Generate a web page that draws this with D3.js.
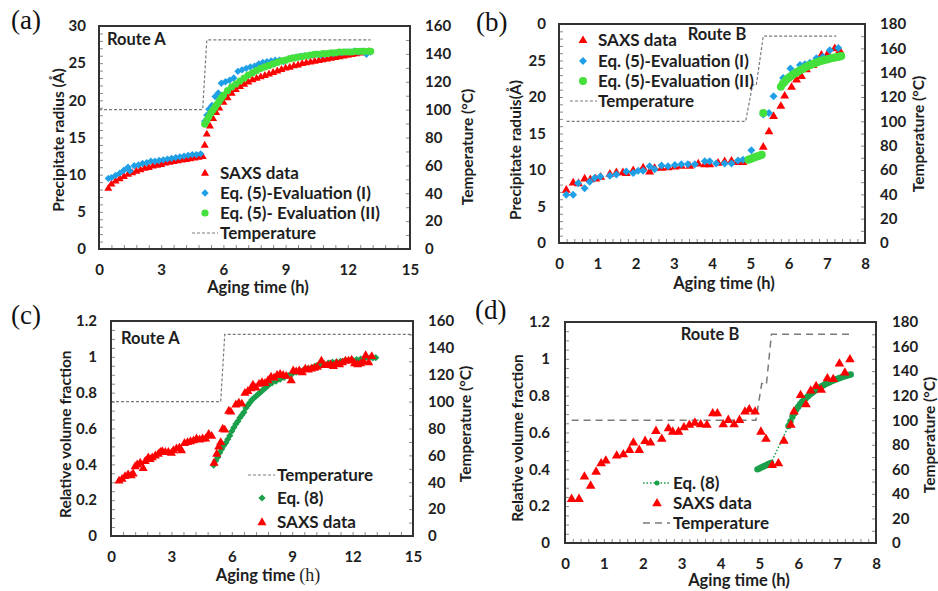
<!DOCTYPE html>
<html><head><meta charset="utf-8">
<script src="https://cdn.jsdelivr.net/npm/d3@7"></script>
<style>body{margin:0;background:#fff}</style>
</head><body>
<svg id="c" width="938" height="591" xmlns="http://www.w3.org/2000/svg"></svg>
<script>
// ---------- DATA ----------
// Panel (a) Route A radius
const aTemp = [[0,100],[5.0,100],[5.2,150],[13.1,150]];
const aSaxs = [[0.45,8.2],[0.6,8.8],[0.8,9.2],[1.0,9.5],[1.2,9.8],[1.4,10.1],[1.6,10.3],[1.8,10.5],[2.0,10.7],[2.2,10.9],[2.4,11.0],[2.6,11.2],[2.8,11.3],[3.0,11.4],[3.2,11.6],[3.4,11.7],[3.6,11.8],[3.8,11.9],[4.0,12.0],[4.2,12.1],[4.4,12.2],[4.6,12.3],[4.8,12.4],[5.0,12.5],
 [5.1,14.0],[5.2,15.5],[5.35,16.6],[5.5,17.6],[5.65,18.4],[5.8,19.0],[6.0,19.8],[6.2,20.4],[6.4,21.0],[6.6,21.5],[6.8,21.9],[7.0,22.2],[7.2,22.5],[7.4,22.8],[7.6,23.0],[7.8,23.2],[8.0,23.4],[8.2,23.6],[8.4,23.8],[8.6,24.0],[8.8,24.2],[9.0,24.4],[9.2,24.5],[9.4,24.7],[9.6,24.8],[9.8,25.0],[10.0,25.1],[10.2,25.2],[10.4,25.3],[10.6,25.4],[10.8,25.5],[11.0,25.6],[11.2,25.7],[11.4,25.8],[11.6,25.9],[11.8,26.0],[12.0,26.1],[12.2,26.2],[12.4,26.3],[12.6,26.4],[12.8,26.5],[13.0,26.6]];
const aEvalI = [[0.45,9.5],[0.6,9.6],[0.8,9.9],[1.0,10.2],[1.2,10.6],[1.4,11.0],[1.5,10.5],[1.7,11.2],[1.9,11.3],[2.1,11.5],[2.3,11.6],[2.5,11.8],[2.7,11.8],[2.9,11.9],[3.1,12.0],[3.3,12.1],[3.5,12.2],[3.7,12.3],[3.9,12.4],[4.1,12.5],[4.3,12.6],[4.5,12.7],[4.7,12.7],[4.9,12.8],
 [5.1,17.2],[5.2,18.0],[5.3,18.8],[5.45,19.3],[5.6,20.5],[5.75,21.0],[5.9,22.3],[6.1,22.5],[6.3,22.7],[6.5,23.0],[6.7,23.9],[6.9,24.1],[7.1,24.3],[7.3,24.5],[7.5,24.6],[7.7,24.9],[7.9,25.1],[8.1,25.2],[8.3,25.3],[8.5,25.4],[8.7,25.4],[8.9,25.2],[9.1,25.5],[9.3,25.7],[9.5,25.8],[9.7,25.9],[9.9,26.0],[10.1,26.0],[10.3,26.1],[10.5,26.2],[10.7,26.1],[10.9,26.2],[11.1,26.3],[11.3,26.3],[11.5,26.4],[11.7,26.4],[11.9,26.5],[12.1,26.5],[12.3,26.6],[12.5,26.5],[12.7,26.6],[12.9,26.2],[13.1,26.5]];
const aEvalII = [[5.1,16.8],[5.2,17.3],[5.3,17.8],[5.4,18.3],[5.5,18.7],[5.6,19.1],[5.7,19.5],[5.8,19.9],[5.9,20.3],[6.0,20.7],[6.2,21.3],[6.4,21.8],[6.6,22.2],[6.8,22.6],[7.0,23.0],[7.2,23.4],[7.4,23.7],[7.6,24.0],[7.8,24.3],[8.0,24.5],[8.2,24.7],[8.4,24.9],[8.6,25.1],[8.8,25.3],[9.0,25.4],[9.2,25.6],[9.4,25.7],[9.6,25.8],[9.8,25.9],[10.0,26.0],[10.2,26.1],[10.4,26.2],[10.6,26.2],[10.8,26.3],[11.0,26.3],[11.2,26.4],[11.4,26.4],[11.6,26.5],[11.8,26.5],[12.0,26.5],[12.2,26.5],[12.4,26.6],[12.6,26.6],[12.8,26.6],[13.0,26.6],[13.1,26.6]];

// Panel (b) Route B radius
const bTemp = [[0.2,100],[4.88,100],[5.06,130],[5.16,130],[5.34,170],[7.25,170]];
const bSaxs = [[0.19,7.3],[0.37,8.3],[0.51,8.2],[0.67,8.85],[0.82,8.75],[0.96,8.85],[1.09,9.1],[1.33,9.5],[1.5,9.7],[1.67,9.7],[1.76,9.6],[1.94,10.0],[2.2,10.35],[2.37,9.8],[2.5,10.3],[2.68,10.3],[2.85,10.4],[3.03,10.5],[3.2,10.6],[3.42,10.6],[3.64,10.9],[3.81,10.8],[3.94,10.8],[4.16,11.0],[4.33,11.2],[4.51,11.3],[4.68,11.1],[4.81,11.1],
 [5.34,13.2],[5.49,15.3],[5.61,17.4],[5.8,18.8],[5.9,20.2],[6.08,21.4],[6.21,22.4],[6.34,22.9],[6.47,23.8],[6.64,24.4],[6.86,25.8],[7.03,26.0],[7.21,26.7],[7.34,26.4]];
const bEvalI = [[0.19,6.6],[0.37,6.6],[0.5,8.2],[0.67,7.5],[0.8,8.4],[0.93,8.9],[1.08,9.1],[1.33,9.2],[1.5,9.4],[1.76,9.8],[1.94,9.6],[2.07,9.9],[2.2,9.9],[2.37,10.5],[2.5,10.1],[2.68,10.6],[2.85,10.5],[3.03,10.7],[3.2,10.8],[3.37,10.8],[3.55,10.8],[3.81,11.2],[3.94,11.2],[4.11,10.9],[4.33,10.9],[4.51,10.9],[4.68,11.3],[4.81,11.4],
 [5.03,12.7],[5.34,17.6],[5.49,17.8],[5.61,20.1],[5.86,22.6],[6.05,23.9],[6.3,24.4],[6.43,24.5],[6.56,24.7],[6.73,25.3],[6.9,25.5],[7.08,26.4],[7.3,26.7]];
const bEvalII = [[4.95,11.4],[5.0,11.5],[5.05,11.6],[5.1,11.7],[5.15,11.8],[5.2,11.9],[5.25,12.0],[5.3,12.1],[5.34,17.8],
 [5.8,21.4],[5.85,21.8],[5.9,22.1],[5.95,22.4],[6.0,22.6],[6.05,22.8],[6.1,23.0],[6.15,23.2],[6.2,23.35],[6.25,23.5],[6.3,23.65],[6.35,23.8],[6.4,23.95],[6.45,24.1],[6.5,24.2],[6.55,24.35],[6.6,24.45],[6.65,24.55],[6.7,24.65],[6.75,24.75],[6.8,24.85],[6.85,24.95],[6.9,25.0],[6.95,25.1],[7.0,25.15],[7.05,25.2],[7.1,25.3],[7.15,25.35],[7.2,25.4],[7.25,25.45],[7.3,25.5],[7.35,25.55],[7.38,25.6]];

// Panel (c) Route A volume fraction
const cTemp = [[0,100],[5.45,100],[5.65,150],[15,150]];
const cSaxs = [[0.4,0.31],[0.55,0.32],[0.7,0.335],[0.85,0.345],[1.0,0.34],[1.1,0.35],[1.2,0.39],[1.3,0.40],[1.45,0.41],[1.6,0.38],[1.7,0.42],[1.85,0.44],[1.95,0.43],[2.05,0.44],[2.2,0.45],[2.35,0.46],[2.45,0.47],[2.55,0.475],[2.7,0.47],[2.85,0.47],[3.0,0.465],[3.1,0.48],[3.25,0.49],[3.4,0.495],[3.5,0.48],[3.65,0.52],[3.8,0.525],[3.95,0.53],[4.1,0.535],[4.25,0.545],[4.4,0.54],[4.55,0.545],[4.7,0.545],[4.85,0.57],[5.0,0.56],
 [5.12,0.41],[5.25,0.46],[5.35,0.50],[5.45,0.525],[5.55,0.60],[5.65,0.595],[5.85,0.70],[5.95,0.695],[6.2,0.735],[6.35,0.745],[6.5,0.74],[6.65,0.80],[6.8,0.81],[6.95,0.825],[7.05,0.845],[7.2,0.83],[7.35,0.85],[7.5,0.86],[7.65,0.855],[7.8,0.87],[7.95,0.89],[8.1,0.885],[8.25,0.90],[8.4,0.905],[8.55,0.90],[8.7,0.895],[8.95,0.87],[9.05,0.925],[9.2,0.92],[9.35,0.925],[9.5,0.915],[9.65,0.935],[9.8,0.93],[9.95,0.935],[10.1,0.94],[10.25,0.945],[10.45,0.98],[10.6,0.955],[10.75,0.955],[10.9,0.96],[11.05,0.95],[11.2,0.965],[11.35,0.96],[11.5,0.97],[11.65,0.98],[11.8,0.98],[11.95,0.985],[12.1,0.965],[12.25,0.96],[12.4,0.965],[12.55,0.975],[12.65,1.01],[12.8,0.97],[12.95,1.005]];
const cEq8 = [[5.1,0.395],[5.2,0.42],[5.3,0.44],[5.4,0.465],[5.5,0.485],[5.6,0.505],[5.7,0.52],[5.8,0.54],[5.9,0.56],[6.0,0.585],[6.1,0.605],[6.2,0.625],[6.3,0.64],[6.4,0.66],[6.5,0.675],[6.6,0.69],[6.7,0.715],[6.8,0.73],[6.9,0.745],[7.0,0.76],[7.1,0.77],[7.2,0.78],[7.3,0.79],[7.4,0.80],[7.5,0.81],[7.6,0.82],[7.7,0.83],[7.8,0.84],[7.9,0.85],[8.0,0.855],[8.2,0.865],[8.4,0.875],[8.6,0.885],[8.8,0.895],[9.0,0.905],[9.2,0.915],[9.4,0.92],[9.6,0.93],[9.8,0.935],[10.0,0.94],[10.2,0.95],[10.4,0.955],[10.6,0.96],[10.8,0.965],[11.0,0.97],[11.2,0.972],[11.4,0.975],[11.6,0.978],[11.8,0.98],[12.0,0.983],[12.2,0.985],[12.4,0.988],[12.6,0.99],[12.8,0.992],[13.0,0.994],[13.15,0.995]];

// Panel (d) Route B volume fraction
const dTemp = [[0.17,100],[4.91,100],[5.06,130],[5.18,128.7],[5.31,170],[7.33,170]];
const dSaxs = [[0.17,0.241],[0.36,0.241],[0.5,0.362],[0.66,0.313],[0.8,0.389],[0.93,0.434],[1.05,0.449],[1.33,0.476],[1.5,0.483],[1.66,0.507],[1.76,0.547],[1.91,0.507],[2.06,0.556],[2.2,0.547],[2.34,0.61],[2.49,0.567],[2.66,0.624],[2.77,0.606],[2.92,0.606],[3.06,0.63],[3.2,0.643],[3.34,0.655],[3.49,0.646],[3.65,0.643],[3.8,0.706],[3.92,0.706],[4.07,0.646],[4.2,0.67],[4.35,0.646],[4.49,0.67],[4.63,0.715],[4.74,0.728],[4.89,0.715],[5.04,0.606],[5.17,0.567],[5.33,0.425],[5.49,0.434],[5.63,0.557],[5.81,0.643],[5.89,0.715],[6.06,0.805],[6.2,0.755],[6.32,0.829],[6.46,0.854],[6.59,0.833],[6.75,0.896],[6.9,0.892],[7.06,0.976],[7.2,0.927],[7.33,0.999]];
const dEq8 = [[4.95,0.400],[5.0,0.405],[5.05,0.410],[5.1,0.415],[5.15,0.420],[5.2,0.425],[5.25,0.430],[5.3,0.435],
 [5.75,0.635],[5.8,0.66],[5.85,0.685],[5.9,0.705],[5.95,0.725],[6.0,0.74],[6.05,0.755],[6.1,0.767],[6.15,0.778],[6.2,0.788],[6.25,0.797],[6.3,0.806],[6.35,0.814],[6.4,0.822],[6.45,0.83],[6.5,0.837],[6.55,0.844],[6.6,0.851],[6.65,0.857],[6.7,0.863],[6.75,0.868],[6.8,0.873],[6.85,0.878],[6.9,0.883],[6.95,0.887],[7.0,0.891],[7.05,0.895],[7.1,0.899],[7.15,0.903],[7.2,0.906],[7.25,0.909],[7.3,0.912],[7.35,0.915]];

// Ticks
const xTicks15 = [0,3,6,9,12,15];
const xTicks8 = [0,1,2,3,4,5,6,7,8];
const yTicksR = [0,5,10,15,20,25,30];
const yLabelsA = ["0","5","10","15","20","25","30"];
const yLabelsB = ["0","5","10","15","20","25","0"];
const yTicksV = [0,0.2,0.4,0.6,0.8,1.0,1.2];
const yLabelsV = ["0","0.2","0.4","0.6","0.8","1","1.2"];
const tTicks160 = [0,20,40,60,80,100,120,140,160];
const tTicks180 = [0,20,40,60,80,100,120,140,160,180];

// ---------- DRAWING ----------
const svg = d3.select('#c');
const FONT = 'Lato, "Open Sans", sans-serif';
const RED = '#FF0000', BLUE = '#1E9FE6', LGREEN = '#44E03C', DGREEN = '#1A9F4A', TEMPC = '#7a7a7a';

function sym(g, type, color, size, cx, cy){
  if(type === 'cir'){
    g.append('circle').attr('cx',cx).attr('cy',cy).attr('r',size).attr('fill',color);
  } else if(type === 'tri'){
    g.append('path').attr('d', d3.symbol(d3.symbolTriangle, size)()).attr('transform',`translate(${cx},${cy+0.5})`).attr('fill',color);
  } else {
    g.append('path').attr('d', d3.symbol(d3.symbolSquare, size)()).attr('transform',`translate(${cx},${cy}) rotate(45)`).attr('fill',color);
  }
}

function styleText(sel, size){
  sel.attr('font-family',FONT).attr('font-weight','bold').attr('font-size',size).attr('fill','#1e1e1e');
}

function drawPanel(p){
  const g = svg.append('g');
  const x = d3.scaleLinear().domain(p.xDomain).range([p.x0,p.x1]);
  const y = d3.scaleLinear().domain(p.yDomain).range([p.y1,p.y0]);
  const t = d3.scaleLinear().domain(p.tDomain).range([p.y1,p.y0]);

  // minor inward ticks
  const mx = d3.range(p.xDomain[0], p.xDomain[1]+1e-9, p.xMinor);
  const my = d3.range(p.yDomain[0], p.yDomain[1]+1e-9, p.yMinor);
  const mt = d3.range(p.tDomain[0], p.tDomain[1]+1e-9, p.tMinor);
  const minor = (axis, tr) => {
    const a = g.append('g').attr('transform',tr).call(axis.tickFormat(''));
    a.select('.domain').remove();
    a.selectAll('line').attr('stroke','#8a8a8a').attr('stroke-width',1);
  };
  minor(d3.axisBottom(x).tickValues(mx).tickSize(-4), `translate(0,${p.y1})`);
  minor(d3.axisLeft(y).tickValues(my).tickSize(-4), `translate(${p.x0},0)`);
  minor(d3.axisRight(t).tickValues(mt).tickSize(-4), `translate(${p.x1},0)`);

  // tick labels
  const lab = (axis, tr, size) => {
    const a = g.append('g').attr('transform',tr).call(axis);
    a.select('.domain').remove();
    a.selectAll('line').remove();
    a.attr('font-family',null).attr('font-size',null);
    styleText(a.selectAll('text'), size);
    return a;
  };
  lab(d3.axisBottom(x).tickValues(p.xTicks).tickSize(0).tickPadding(15).tickFormat(d=>String(d)), `translate(0,${p.y1})`, 15);
  lab(d3.axisLeft(y).tickValues(p.yTicks).tickSize(0).tickPadding(p.leftPad).tickFormat((d,i)=>p.yLabels[i]), `translate(${p.x0},0)`, 15);
  lab(d3.axisRight(t).tickValues(p.tTicks).tickSize(0).tickPadding(p.rightPad).tickFormat(d=>String(d)), `translate(${p.x1},0)`, 15);

  // temperature line
  g.append('path').datum(p.temp)
    .attr('d', d3.line().x(d=>x(d[0])).y(d=>t(d[1])))
    .attr('fill','none').attr('stroke',TEMPC).attr('stroke-width',p.tempW).attr('stroke-dasharray',p.tempDash);

  // series
  p.series.forEach(s=>{
    const sg = g.append('g');
    if(s.line){
      sg.append('path').datum(s.data)
        .attr('d', d3.line().x(d=>x(d[0])).y(d=>y(d[1])))
        .attr('fill','none').attr('stroke',s.color).attr('stroke-width',1.5).attr('stroke-dasharray','1.5,2');
    }
    s.data.forEach(d=> sym(sg, s.type, s.color, s.size, x(d[0]), y(d[1])));
  });

  // frame
  g.append('rect').attr('x',p.x0).attr('y',p.y0).attr('width',p.x1-p.x0).attr('height',p.y1-p.y0)
    .attr('fill','none').attr('stroke','#333').attr('stroke-width',2);

  // legend
  p.legend.forEach(l=>{
    if(l.dash){
      g.append('line').attr('x1',l.lx1).attr('x2',l.lx2).attr('y1',l.y).attr('y2',l.y)
        .attr('stroke',l.color).attr('stroke-width',l.w).attr('stroke-dasharray',l.dash);
    }
    if(l.type) sym(g, l.type, l.color, l.size, l.mx, l.y);
    styleText(g.append('text').attr('x',l.tx).attr('y',l.y).attr('dy','0.36em').text(l.text), 17);
  });

  // route label
  styleText(g.append('text').attr('x',p.route.x).attr('y',p.route.y).attr('text-anchor',p.route.anchor).text(p.route.text), 16.5);

  // panel tag
  g.append('text').attr('x',p.tag.x).attr('y',p.tag.y).text(p.tag.text)
    .attr('font-family','"Liberation Serif", "DejaVu Serif", serif').attr('font-size',27).attr('fill','#111');

  // axis titles
  const xt = g.append('text').attr('x',p.xTitle.x).attr('y',p.xTitle.y).attr('text-anchor','middle');
  styleText(xt, 16.5);
  xt.append('tspan').text('Aging time ');
  xt.append('tspan').text('(h)').attr('font-family', p.xTitle.serifH ? '"Liberation Serif", serif' : FONT).attr('font-weight', p.xTitle.serifH ? 'normal' : 'bold').attr('font-size', p.xTitle.serifH ? 18 : 16.5);

  let ytHost = g;
  if(p.yTitle.clip){
    const id = 'clip' + p.tag.text.replace(/\W/g,'');
    svg.append('clipPath').attr('id',id).append('rect')
      .attr('x',p.yTitle.x-15).attr('y',p.yTitle.clip).attr('width',30).attr('height',300);
    ytHost = g.append('g').attr('clip-path',`url(#${id})`);
  }
  const yt = ytHost.append('text').attr('transform',`translate(${p.yTitle.x},${p.yTitle.y}) rotate(-90)`)
    .attr('text-anchor',p.yTitle.anchor || 'middle').attr('dy','0.36em').text(p.yTitle.text);
  styleText(yt, 15.5);
  const tt = g.append('text').attr('transform',`translate(${p.tTitle.x},${p.tTitle.y}) rotate(-90)`)
    .attr('text-anchor','middle').attr('dy','0.36em').text('Temperature (°C)');
  styleText(tt, 15.5);
}

// ---------- PANELS ----------
drawPanel({
  x0:99, x1:410, y0:26, y1:249,
  xDomain:[0,15], xTicks:xTicks15, xMinor:0.6,
  yDomain:[0,30], yTicks:yTicksR, yLabels:yLabelsA, yMinor:1,
  tDomain:[0,160], tTicks:tTicks160, tMinor:10,
  leftPad:13, rightPad:15,
  temp:aTemp, tempDash:'3,2', tempW:1.2,
  series:[
    {data:aSaxs, type:'tri', color:RED, size:28},
    {data:aEvalI, type:'dia', color:BLUE, size:27},
    {data:aEvalII, type:'cir', color:LGREEN, size:3.6}
  ],
  legend:[
    {text:'SAXS data', y:173, tx:220, type:'tri', color:RED, size:28, mx:205},
    {text:'Eq. (5)-Evaluation (I)', y:193, tx:220, type:'dia', color:BLUE, size:27, mx:205},
    {text:'Eq. (5)- Evaluation (II)', y:213, tx:220, type:'cir', color:LGREEN, size:3.6, mx:205},
    {text:'Temperature', y:233, tx:220, dash:'3,2', lx1:192, lx2:218, color:TEMPC, w:1.2}
  ],
  route:{text:'Route A', x:107, y:45, anchor:'start'},
  tag:{text:'(a)', x:11, y:29},
  xTitle:{x:258, y:293},
  yTitle:{text:'Precipitate radius (Å)', x:58, y:140},
  tTitle:{x:467, y:147}
});

drawPanel({
  x0:559, x1:865, y0:24, y1:243,
  xDomain:[0,8], xTicks:xTicks8, xMinor:0.2,
  yDomain:[0,30], yTicks:yTicksR, yLabels:yLabelsB, yMinor:1,
  tDomain:[0,180], tTicks:tTicks180, tMinor:10,
  leftPad:13, rightPad:15,
  temp:bTemp, tempDash:'3,2', tempW:1.2,
  series:[
    {data:bSaxs, type:'tri', color:RED, size:34},
    {data:bEvalI, type:'dia', color:BLUE, size:32},
    {data:bEvalII, type:'cir', color:LGREEN, size:4}
  ],
  legend:[
    {text:'SAXS data', y:40, tx:598, type:'tri', color:RED, size:34, mx:583},
    {text:'Eq. (5)-Evaluation (I)', y:61, tx:598, type:'dia', color:BLUE, size:32, mx:583},
    {text:'Eq. (5)-Evaluation (II)', y:81, tx:598, type:'cir', color:LGREEN, size:4, mx:583},
    {text:'Temperature', y:101, tx:598, dash:'3,2', lx1:570, lx2:597, color:TEMPC, w:1.2}
  ],
  route:{text:'Route B', x:717, y:40, anchor:'middle'},
  tag:{text:'(b)', x:476, y:31},
  xTitle:{x:724, y:289},
  yTitle:{text:'Precipitate raduis(Å)', x:515, y:150},
  tTitle:{x:918, y:134}
});

drawPanel({
  x0:111, x1:413, y0:321, y1:536,
  xDomain:[0,15], xTicks:xTicks15, xMinor:0.6,
  yDomain:[0,1.2], yTicks:yTicksV, yLabels:yLabelsV, yMinor:0.05,
  tDomain:[0,160], tTicks:tTicks160, tMinor:10,
  leftPad:14, rightPad:15,
  temp:cTemp, tempDash:'3,2', tempW:1.2,
  series:[
    {data:cEq8, type:'dia', color:DGREEN, size:26},
    {data:cSaxs, type:'tri', color:RED, size:36}
  ],
  legend:[
    {text:'Temperature', y:475, tx:277, dash:'3,2', lx1:248, lx2:275, color:TEMPC, w:1.2},
    {text:'Eq. (8)', y:498, tx:277, type:'dia', color:DGREEN, size:26, mx:262},
    {text:'SAXS data', y:522, tx:277, type:'tri', color:RED, size:36, mx:262}
  ],
  route:{text:'Route A', x:121, y:344, anchor:'start'},
  tag:{text:'(c)', x:11, y:324},
  xTitle:{x:268, y:581, serifH:true},
  yTitle:{text:'Relative volume fraction', x:65, y:518, anchor:'start', clip:345},
  tTitle:{x:465, y:424}
});

drawPanel({
  x0:565, x1:876, y0:322, y1:543,
  xDomain:[0,8], xTicks:xTicks8, xMinor:0.2,
  yDomain:[0,1.2], yTicks:yTicksV, yLabels:yLabelsV, yMinor:0.05,
  tDomain:[0,180], tTicks:tTicks180, tMinor:10,
  leftPad:15, rightPad:16,
  temp:dTemp, tempDash:'7,5', tempW:1.5,
  series:[
    {data:dEq8, type:'cir', color:DGREEN, size:3.2, line:true},
    {data:dSaxs, type:'tri', color:RED, size:40}
  ],
  legend:[
    {text:'Eq. (8)', y:483, tx:673, dash:'1.5,2', lx1:643, lx2:670, color:DGREEN, w:1.5, type:'cir', size:2.5, mx:657},
    {text:'SAXS data', y:503, tx:673, type:'tri', color:RED, size:40, mx:657},
    {text:'Temperature', y:523, tx:673, dash:'7,5', lx1:643, lx2:670, color:TEMPC, w:1.5}
  ],
  route:{text:'Route B', x:710, y:340, anchor:'middle'},
  tag:{text:'(d)', x:475, y:319},
  xTitle:{x:739, y:586},
  yTitle:{text:'Relative volume fraction', x:517, y:438},
  tTitle:{x:929, y:435}
});
</script>
</body></html>
